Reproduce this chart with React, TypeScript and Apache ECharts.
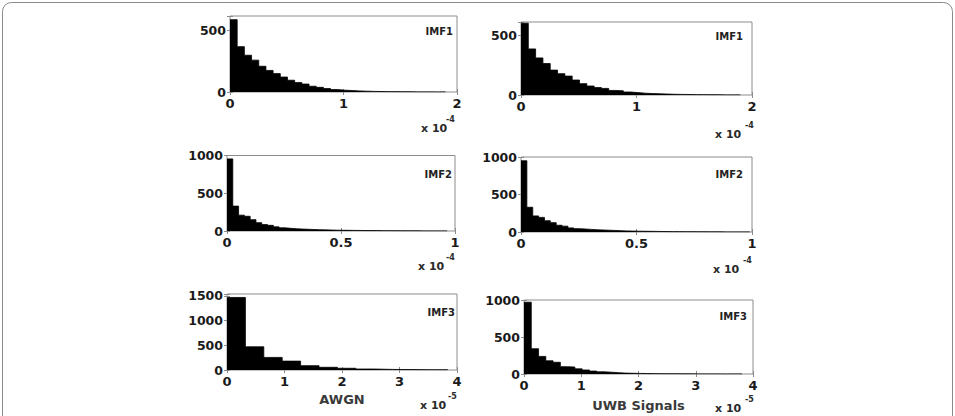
import React, { useEffect, useRef } from "react";
import * as echarts from "echarts";

// Histogram counts
const awgnImf1 = [590, 370, 300, 260, 210, 176, 150, 122, 96, 77, 65, 47, 38, 28, 20, 15, 12, 9, 7, 5, 4, 3, 3, 2, 2, 1, 1, 1, 0, 1];
const uwbImf1 = [600, 385, 310, 263, 208, 178, 158, 125, 95, 75, 62, 55, 38, 35, 25, 20, 15, 12, 10, 8, 6, 5, 4, 3, 3, 2, 2, 1, 1, 1];
const awgnImf2 = [955, 330, 210, 195, 150, 110, 85, 75, 55, 42, 36, 30, 26, 23, 20, 17, 15, 13, 11, 10, 9, 8, 7, 6, 5, 5, 4, 4, 3, 3, 2, 2, 2, 1, 1, 1, 1, 1];
const uwbImf2 = [950, 330, 215, 195, 150, 125, 90, 78, 55, 45, 40, 35, 30, 27, 24, 21, 18, 15, 13, 11, 10, 9, 8, 7, 6, 5, 5, 4, 4, 3, 3, 2, 2, 2, 1, 1, 1, 1, 1];
const awgnImf3 = [1470, 470, 255, 180, 88, 55, 35, 20, 12, 8, 5, 4];
const uwbImf3 = [980, 345, 240, 180, 160, 100, 95, 70, 55, 40, 30, 25, 18, 12, 10, 8, 6, 5, 4, 3, 3, 2, 2, 1, 1, 1, 1, 0, 1, 1];

// Bin widths (in units of the axis multiplier)
const binImf1 = 0.0633;
const binImf2 = 0.0254;
const binImf3Awgn = 0.32;
const binImf3Uwb = 0.127;

const imfNames = ["IMF1", "IMF1", "IMF2", "IMF2", "IMF3", "IMF3"];
const exponents = ["-4", "-4", "-4", "-4", "-5", "-5"];
const columnNames = ["AWGN", "UWB Signals"];

const FONT = "DejaVu Sans";

type Panel = {
  counts: number[];
  bin: number;
  xMax: number;
  xInt: number;
  yMax: number;
  yInt: number;
  g: { left: number; top: number; width: number; height: number };
  imf: { x: number; y: number };
  mult: { x: number; y: number; sx: number; sy: number };
  name?: string;
  nameGap?: number;
};

const panels: Panel[] = [
  { counts: awgnImf1, bin: binImf1, xMax: 2, xInt: 1, yMax: 620, yInt: 500,
    g: { left: 230, top: 16, width: 227, height: 76 },
    imf: { x: 453, y: 31 }, mult: { x: 421, y: 128, sx: 446, sy: 119 } },
  { counts: uwbImf1, bin: binImf1, xMax: 2, xInt: 1, yMax: 610, yInt: 500,
    g: { left: 521, top: 22, width: 231, height: 73 },
    imf: { x: 743, y: 36.5 }, mult: { x: 715, y: 134, sx: 745, sy: 125 } },
  { counts: awgnImf2, bin: binImf2, xMax: 1, xInt: 0.5, yMax: 1000, yInt: 500,
    g: { left: 227, top: 155.5, width: 228, height: 75.5 },
    imf: { x: 452, y: 174 }, mult: { x: 418, y: 266.5, sx: 446, sy: 257.5 } },
  { counts: uwbImf2, bin: binImf2, xMax: 1, xInt: 0.5, yMax: 1000, yInt: 500,
    g: { left: 521, top: 157, width: 231, height: 75 },
    imf: { x: 743, y: 174 }, mult: { x: 713, y: 269, sx: 743, sy: 260 } },
  { counts: awgnImf3, bin: binImf3Awgn, xMax: 4, xInt: 1, yMax: 1540, yInt: 500,
    g: { left: 227, top: 294, width: 230, height: 76 },
    imf: { x: 455, y: 312 }, mult: { x: 420, y: 405, sx: 448, sy: 396 },
    name: columnNames[0], nameGap: 23 },
  { counts: uwbImf3, bin: binImf3Uwb, xMax: 4, xInt: 1, yMax: 1010, yInt: 500,
    g: { left: 524, top: 300, width: 229, height: 74 },
    imf: { x: 747, y: 316 }, mult: { x: 715, y: 408, sx: 745, sy: 399 },
    name: columnNames[1], nameGap: 25 },
];

export default function App() {
  const ref = useRef<HTMLDivElement>(null);
  useEffect(() => {
    if (!ref.current) return;
    const chart = echarts.init(ref.current, undefined, { renderer: "svg" });
    const grid: any[] = [];
    const xAxis: any[] = [];
    const yAxis: any[] = [];
    const series: any[] = [];
    const graphic: any[] = [
      {
        type: "rect",
        shape: { x: 2.5, y: 2.5, width: 950, height: 440, r: 9 },
        style: { fill: "none", stroke: "#8a8a8a", lineWidth: 1 },
        silent: true,
      },
    ];
    const tickStyle = { show: true, inside: true, length: 3, lineStyle: { color: "#8c8c8c", width: 1 } };
    panels.forEach((p, i) => {
      grid.push({
        ...p.g,
        show: true,
        borderColor: "#8c8c8c",
        borderWidth: 1,
        backgroundColor: "#fff",
        containLabel: false,
      });
      xAxis.push({
        type: "value",
        gridIndex: i,
        min: 0,
        max: p.xMax,
        interval: p.xInt,
        position: "bottom",
        axisLine: { show: false },
        axisTick: tickStyle,
        splitLine: { show: false },
        axisLabel: {
          margin: 5,
          fontFamily: FONT,
          fontWeight: "bold",
          fontSize: 13,
          color: "#1a1a1a",
          formatter: (v: number) => String(v),
        },
        name: p.name || "",
        nameLocation: "middle",
        nameGap: p.nameGap || 20,
        nameTextStyle: { fontFamily: FONT, fontWeight: "bold", fontSize: 13, color: "#3a3a3a", verticalAlign: "top" },
      });
      xAxis.push({
        type: "value",
        gridIndex: i,
        min: 0,
        max: p.xMax,
        interval: p.xInt,
        position: "top",
        axisLine: { show: false },
        axisTick: tickStyle,
        splitLine: { show: false },
        axisLabel: { show: false },
      });
      yAxis.push({
        type: "value",
        gridIndex: i,
        min: 0,
        max: p.yMax,
        interval: p.yInt,
        position: "left",
        axisLine: { show: false },
        axisTick: tickStyle,
        splitLine: { show: false },
        axisLabel: {
          margin: 4,
          fontFamily: FONT,
          fontWeight: "bold",
          fontSize: 12.5,
          color: "#1a1a1a",
          formatter: (v: number) => (v % p.yInt === 0 ? String(v) : ""),
        },
      });
      yAxis.push({
        type: "value",
        gridIndex: i,
        min: 0,
        max: p.yMax,
        interval: p.yInt,
        position: "right",
        axisLine: { show: false },
        axisTick: tickStyle,
        splitLine: { show: false },
        axisLabel: { show: false },
      });
      // histogram drawn as a stepped filled outline: points at each bin's left edge,
      // plus the closing right edge of the last bin
      const pts: number[][] = p.counts.map((c, k) => [k * p.bin, c]);
      pts.push([p.counts.length * p.bin, p.counts[p.counts.length - 1]]);
      series.push({
        type: "line",
        xAxisIndex: i * 2,
        yAxisIndex: i * 2,
        data: pts,
        step: "end",
        symbol: "none",
        lineStyle: { color: "#000", width: 0.8 },
        areaStyle: { color: "#000", opacity: 1 },
        silent: true,
      });
      graphic.push({
        type: "text",
        x: p.imf.x,
        y: p.imf.y,
        style: {
          text: imfNames[i],
          fontFamily: FONT,
          fontWeight: "bold",
          fontSize: 10,
          fill: "#222",
          align: "right",
          verticalAlign: "middle",
        },
        silent: true,
      });
      graphic.push({
        type: "text",
        x: p.mult.x,
        y: p.mult.y,
        style: {
          text: "x 10",
          fontFamily: FONT,
          fontWeight: "bold",
          fontSize: 11,
          fill: "#2a2a2a",
          align: "left",
          verticalAlign: "middle",
        },
        silent: true,
      });
      graphic.push({
        type: "text",
        x: p.mult.sx,
        y: p.mult.sy,
        style: {
          text: exponents[i],
          fontFamily: FONT,
          fontWeight: "bold",
          fontSize: 8,
          fill: "#2a2a2a",
          align: "left",
          verticalAlign: "middle",
        },
        silent: true,
      });
    });
    chart.setOption({
      animation: false,
      backgroundColor: "#fff",
      grid,
      xAxis,
      yAxis,
      series,
      graphic,
    });
    return () => chart.dispose();
  }, []);
  return (
    <div
      ref={ref}
      style={{ position: "absolute", left: 0, top: 0, width: 955, height: 416 }}
    />
  );
}
